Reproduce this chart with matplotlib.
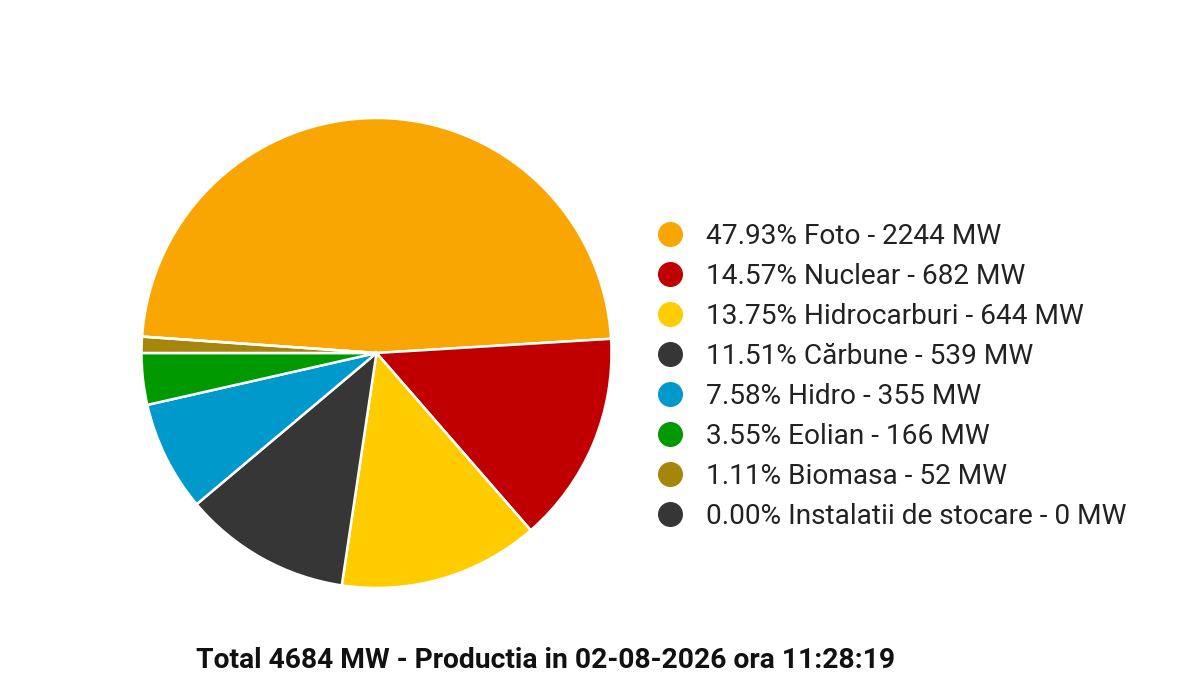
import matplotlib.pyplot as plt
from matplotlib.lines import Line2D

plt.rcParams['font.family'] = ['Roboto', 'DejaVu Sans']

# data
sources = ['Foto', 'Nuclear', 'Hidrocarburi', 'Cărbune', 'Hidro', 'Eolian',
           'Biomasa', 'Instalatii de stocare']
mw = [2244, 682, 644, 539, 355, 166, 52, 0]
percents = ['47.93', '14.57', '13.75', '11.51', '7.58', '3.55', '1.11', '0.00']
colors = ['#FAA602', '#C00000', '#FFCC00', '#363636', '#0099CC', '#009A00',
          '#A5850A', '#363636']
title = 'Total 4684 MW - Productia in 02-08-2026 ora 11:28:19'


def main():
    fig = plt.figure(figsize=(12, 6.92), dpi=100)
    ax = fig.add_axes([0.1179, 0.1503, 0.3917, 0.6792])

    ax.pie(mw, colors=colors, startangle=176, counterclock=False,
           wedgeprops=dict(edgecolor='white', linewidth=1.8))
    ax.set_xlim(-1.0, 1.0)
    ax.set_ylim(-1.0, 1.0)
    ax.set_aspect('equal')

    # legend with round markers
    handles = [Line2D([0], [0], marker='o', linestyle='none', markersize=17,
                      markerfacecolor=c, markeredgecolor=c) for c in colors]
    labels = [f'{p}% {s} - {v} MW' for p, s, v in zip(percents, sources, mw)]
    fig.legend(handles, labels, loc='center left',
               bbox_to_anchor=(0.5467, 0.456), frameon=False,
               fontsize=20.2, labelspacing=0.46, handletextpad=0.79,
               handlelength=1.0, borderaxespad=0, borderpad=0,
               labelcolor='#222222')

    fig.text(0.4546, 0.046, title, ha='center', va='center',
             fontsize=20.3, fontweight='bold', color='#111111')

    fig.savefig('out.png', dpi=100, facecolor='white')


if __name__ == '__main__':
    main()
